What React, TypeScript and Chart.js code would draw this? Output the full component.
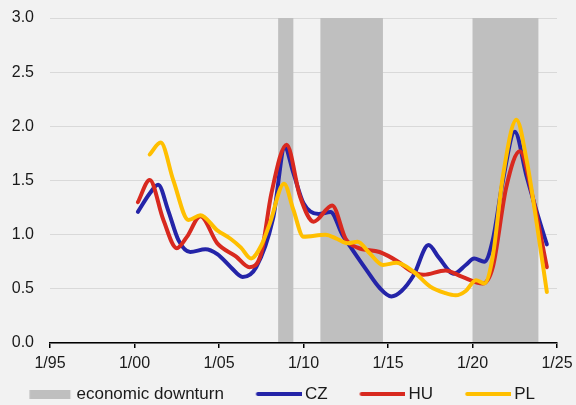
import React, { useEffect, useRef } from 'react';
import { Chart, registerables } from 'chart.js';

Chart.register(...registerables);

// ---- data ----
const xMin = 1995;
const xMax = 2025;
const xStep = 5;
const yMin = 0;
const yMax = 3;
const yStep = 0.5;

const czYears = [2000.2, 2000.9, 2001.4, 2002.0, 2002.6, 2003.3, 2004.2, 2004.9, 2005.7, 2006.4, 2007.2, 2008.2, 2008.9, 2009.4, 2010.0, 2010.9, 2011.6, 2012.3, 2012.9, 2013.7, 2014.5, 2015.2, 2015.8, 2016.5, 2017.4, 2018.0, 2018.9, 2019.6, 2020.1, 2020.7, 2021.2, 2021.8, 2022.5, 2023.2, 2024.0, 2024.4];
const czValues = [1.21, 1.38, 1.46, 1.22, 0.95, 0.84, 0.865, 0.82, 0.70, 0.61, 0.70, 1.15, 1.80, 1.57, 1.29, 1.19, 1.21, 1.00, 0.86, 0.68, 0.51, 0.43, 0.48, 0.62, 0.905, 0.79, 0.64, 0.72, 0.78, 0.75, 0.95, 1.50, 1.95, 1.54, 1.11, 0.91];

const huYears = [2000.2, 2000.9, 2001.7, 2002.5, 2003.1, 2003.9, 2004.9, 2006.0, 2006.8, 2007.5, 2008.1, 2009.0, 2009.8, 2010.6, 2011.7, 2012.5, 2013.2, 2014.5, 2015.6, 2016.3, 2017.1, 2018.4, 2019.4, 2020.6, 2021.2, 2022.0, 2022.8, 2023.6, 2024.4];
const huValues = [1.30, 1.505, 1.14, 0.875, 0.98, 1.17, 0.92, 0.80, 0.70, 0.83, 1.38, 1.83, 1.35, 1.12, 1.27, 0.96, 0.88, 0.84, 0.75, 0.67, 0.63, 0.67, 0.61, 0.55, 0.70, 1.44, 1.77, 1.32, 0.70];

const plYears = [2000.9, 2001.55, 2002.3, 2003.2, 2003.9, 2004.9, 2005.7, 2006.3, 2006.9, 2007.5, 2008.0, 2008.85, 2009.4, 2010.0, 2011.3, 2012.0, 2012.6, 2013.2, 2013.9, 2014.7, 2015.5, 2016.5, 2017.5, 2018.4, 2019.0, 2019.6, 2020.2, 2020.7, 2021.2, 2021.8, 2022.6, 2023.2, 2023.8, 2024.4];
const plValues = [1.74, 1.85, 1.50, 1.135, 1.18, 1.04, 0.96, 0.88, 0.78, 0.90, 1.10, 1.47, 1.23, 0.98, 1.00, 0.96, 0.92, 0.935, 0.83, 0.72, 0.74, 0.66, 0.52, 0.46, 0.44, 0.48, 0.58, 0.55, 0.80, 1.54, 2.06, 1.69, 1.105, 0.47];

const downturnStart = [2008.5, 2011.0, 2020.0];
const downturnEnd = [2009.4, 2014.7, 2023.9];

const seriesNames = ['CZ', 'HU', 'PL'];
const bandLabel = 'economic downturn';

// ---- styles ----
const BG = '#f2f2f2';
const BAND = '#bfbfbf';
const GRID = '#d9d9d9';
const TEXT = '#1a1a1a';
const CZ_COLOR = '#2424a8';
const HU_COLOR = '#d8291f';
const PL_COLOR = '#ffbf00';
const FONT = "'Liberation Sans', Arial, Helvetica, sans-serif";

const SWATCH_BOX = 58.5; // legend box width (includes leading gap)
const SWATCH_GAP = 20; // leading empty space inside the box

function toPoints(xs: number[], ys: number[]) {
  return xs.map((x, i) => ({ x, y: ys[i] }));
}

function makeSwatch(kind: 'rect' | 'line', color: string): HTMLCanvasElement {
  const c = document.createElement('canvas');
  const w = Math.round(SWATCH_BOX) + 10;
  c.width = w;
  const off = (w - SWATCH_BOX) / 2 + SWATCH_GAP;
  if (kind === 'rect') {
    c.height = 9;
    const g = c.getContext('2d')!;
    g.fillStyle = color;
    g.fillRect(off, 0, 41, 9);
  } else {
    c.height = 6;
    const g = c.getContext('2d')!;
    g.strokeStyle = color;
    g.lineWidth = 4;
    g.lineCap = 'round';
    g.beginPath();
    g.moveTo(off, 3);
    g.lineTo(off + 43, 3);
    g.stroke();
  }
  return c;
}

const bandsPlugin = {
  id: 'downturnBands',
  beforeDatasetsDraw(chart: any) {
    const { ctx, chartArea, scales } = chart;
    const xs = scales.x;
    ctx.save();
    ctx.fillStyle = BAND;
    downturnStart.forEach((s, i) => {
      const x0 = xs.getPixelForValue(s);
      const x1 = xs.getPixelForValue(downturnEnd[i]);
      ctx.fillRect(x0, chartArea.top, x1 - x0, chartArea.bottom - chartArea.top - 1);
    });
    ctx.restore();
  },
};

export default function App() {
  const ref = useRef<HTMLCanvasElement | null>(null);

  useEffect(() => {
    document.body.style.margin = '0';
    document.body.style.background = BG;
    const canvas = ref.current!;
    const swatches = [
      makeSwatch('rect', BAND),
      makeSwatch('line', CZ_COLOR),
      makeSwatch('line', HU_COLOR),
      makeSwatch('line', PL_COLOR),
    ];
    const legendTexts = [bandLabel, ...seriesNames];
    const legendColors = [BAND, CZ_COLOR, HU_COLOR, PL_COLOR];

    const common = {
      pointRadius: 0,
      pointHoverRadius: 0,
      borderWidth: 4,
      fill: false,
      cubicInterpolationMode: 'monotone' as const,
      borderCapStyle: 'round' as const,
      borderJoinStyle: 'round' as const,
    };

    const chart = new Chart(canvas, {
      type: 'line',
      data: {
        datasets: [
          { ...common, label: seriesNames[0], data: toPoints(czYears, czValues), borderColor: CZ_COLOR, backgroundColor: CZ_COLOR, order: 2 },
          { ...common, label: seriesNames[1], data: toPoints(huYears, huValues), borderColor: HU_COLOR, backgroundColor: HU_COLOR, order: 1 },
          { ...common, label: seriesNames[2], data: toPoints(plYears, plValues), borderColor: PL_COLOR, backgroundColor: PL_COLOR, order: 0 },
        ],
      },
      options: {
        responsive: false,
        animation: false,
        layout: { padding: { top: 18, right: 19, bottom: -7.5, left: -4.5 } },
        scales: {
          x: {
            type: 'linear',
            min: xMin,
            max: xMax,
            afterFit: (s: any) => {
              s.height = 28.5;
              s.paddingLeft = 0;
              s.paddingRight = 0;
            },
            grid: { drawOnChartArea: false, drawTicks: true, tickLength: 5, color: '#000', lineWidth: 1.5 },
            border: { display: true, color: '#000', width: 1.5 },
            ticks: {
              stepSize: xStep,
              padding: 6,
              color: TEXT,
              font: { family: FONT, size: 16 },
              maxRotation: 0,
              autoSkip: false,
              callback: (v: any) => '1/' + String(Number(v) % 100).padStart(2, '0'),
            },
          },
          y: {
            min: yMin,
            max: yMax,
            afterFit: (s: any) => {
              s.width = 54.5;
              s.paddingTop = 0;
              s.paddingBottom = 0;
            },
            grid: { drawTicks: false, color: GRID, lineWidth: 1 },
            border: { display: false },
            ticks: {
              stepSize: yStep,
              padding: 16,
              color: TEXT,
              font: { family: FONT, size: 16 },
              callback: (v: any) => Number(v).toFixed(1),
            },
          },
        },
        plugins: {
          tooltip: { enabled: false },
          legend: {
            position: 'bottom',
            align: 'start',
            onClick: () => {},
            labels: {
              usePointStyle: true,
              pointStyleWidth: SWATCH_BOX,
              padding: 14,
              color: TEXT,
              font: { family: FONT, size: 17 },
              generateLabels: () =>
                legendTexts.map((t, i) => ({
                  text: t,
                  pointStyle: swatches[i] as any,
                  fillStyle: legendColors[i],
                  strokeStyle: legendColors[i],
                  lineWidth: 0,
                  hidden: false,
                  fontColor: TEXT,
                  datasetIndex: i,
                })),
            },
          },
        },
      },
      plugins: [bandsPlugin],
    });
    return () => chart.destroy();
  }, []);

  return (
    <div style={{ width: 576, height: 405, background: BG }}>
      <canvas ref={ref} width={576} height={405} style={{ display: 'block', background: BG }} />
    </div>
  );
}
